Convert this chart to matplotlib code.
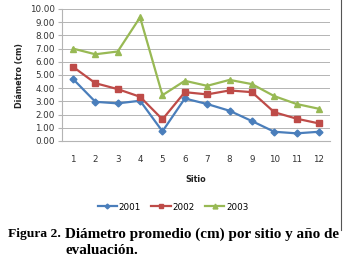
import matplotlib
matplotlib.use("Agg")
import matplotlib.pyplot as plt
from matplotlib.lines import Line2D

sitios = [1, 2, 3, 4, 5, 6, 7, 8, 9, 10, 11, 12]
d2001 = [4.70, 2.97, 2.85, 3.05, 0.73, 3.22, 2.80, 2.29, 1.51, 0.70, 0.58, 0.70]
d2002 = [5.62, 4.38, 3.93, 3.35, 1.64, 3.70, 3.53, 3.83, 3.70, 2.18, 1.69, 1.33]
d2003 = [7.00, 6.57, 6.78, 9.37, 3.47, 4.56, 4.18, 4.63, 4.31, 3.40, 2.80, 2.44]
years = ["2001", "2002", "2003"]
yticks = [0, 1, 2, 3, 4, 5, 6, 7, 8, 9, 10]

W, H = 347, 261
fig = plt.figure(figsize=(W / 100, H / 100), dpi=100)
ax = fig.add_axes([61.8 / W, 1 - 141 / H, (330.2 - 61.8) / W, (141 - 9) / H])

styles = [("#4A7EBB", "D", 3.5), ("#BE4B48", "s", 4.5), ("#98B954", "^", 5)]
for data, name, (c, m, ms) in zip([d2001, d2002, d2003], years, styles):
    ax.plot(sitios, data, color=c, marker=m, markersize=ms, lw=1.6, label=name)

ax.set_xlim(0.5, 12.5)
ax.set_ylim(0, 10)
ax.set_yticks(yticks)
ax.set_yticklabels([f"{v:.2f}" for v in yticks])
ax.set_xticks(sitios)
ax.grid(axis="y", color="#B4B4B4", lw=0.7)
ax.set_axisbelow(True)
for s in ["top", "right"]:
    ax.spines[s].set_visible(False)
ax.spines["left"].set_color("#B4B4B4")
ax.spines["bottom"].set_color("#B4B4B4")
ax.tick_params(axis="y", length=3, color="#B4B4B4", labelsize=6.3, pad=2, labelcolor="#333333")
ax.tick_params(axis="x", length=0, labelsize=6.3, pad=10, labelcolor="#333333")
ax.set_xlabel("Sitio", fontsize=5.8, fontweight="bold", labelpad=8, color="#222222")
ax.set_ylabel("Diámetro (cm)", fontsize=5.8, fontweight="bold", labelpad=4, color="#222222")

ax.legend(loc="center", bbox_to_anchor=(173 / W, 1 - 207 / H), bbox_transform=fig.transFigure,
          ncol=3, frameon=False, fontsize=6.3, handlelength=2.2, columnspacing=1.2,
          handletextpad=0.2, markerscale=0.7)

fig.add_artist(Line2D([341 / W, 341 / W], [1, 1 - 230 / H], color="#555555", lw=0.8))

fig.text(8 / W, 1 - 234 / H, "Figura 2.", family="Liberation Serif", fontweight="bold",
         fontsize=9.7, va="center")
fig.text(65 / W, 1 - 234 / H, "Diámetro promedio (cm) por sitio y año de",
         family="Liberation Serif", fontweight="bold", fontsize=10.9, va="center")
fig.text(65 / W, 1 - 251 / H, "evaluación.", family="Liberation Serif", fontweight="bold",
         fontsize=10.9, va="center")

fig.savefig("out.png", dpi=100)
